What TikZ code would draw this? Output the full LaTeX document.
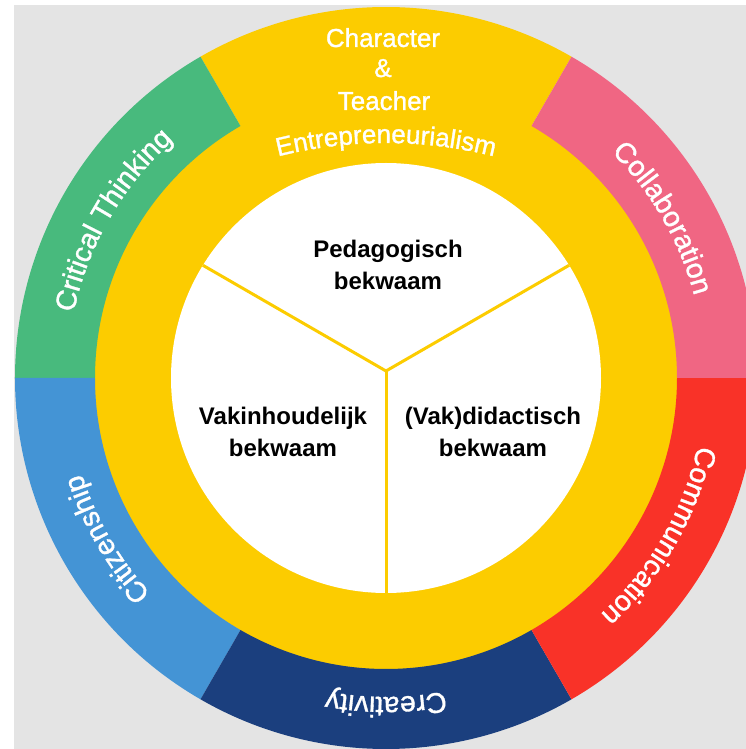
\documentclass[tikz,border=0pt]{standalone}
\usepackage{fontspec}
\setmainfont{Liberation Sans}
\newfontfamily\medfont{Liberation Sans}[FakeBold=1.2]
\usetikzlibrary{decorations.text}
\definecolor{bggray}{RGB}{228,228,228}
\definecolor{ringyellow}{RGB}{252,204,0}
\definecolor{ringgreen}{RGB}{72,186,125}
\definecolor{ringpink}{RGB}{240,102,131}
\definecolor{ringred}{RGB}{249,50,40}
\definecolor{ringnavy}{RGB}{27,63,126}
\definecolor{ringblue}{RGB}{68,148,213}
\newcommand\ringsector[5]{\fill[#1] (#2:#4) arc[start angle=#2, end angle=#3, radius=#4] -- (#3:#5) arc[start angle=#3, end angle=#2, radius=#5] -- cycle;}
\newcommand\ringfnt{\medfont\fontsize{28.5}{28.5}\selectfont}
\newcommand\topfnt{\medfont\fontsize{26}{26}\selectfont}
\tikzset{
  innertxt/.style={align=center, text=black, font=\bfseries\fontsize{24}{32}\selectfont, inner sep=0pt},
  toptxt/.style={text=white, font=\topfnt, inner sep=0pt, anchor=base},
  divider/.style={draw=ringyellow, line width=3pt},
  ringlabel/.style={decorate, decoration={text along path, text align=center, text color=white, text={|\ringfnt|#1}}},
  toplabel/.style={decorate, decoration={text along path, text align=center, text color=white, text={|\topfnt|#1}}}
}
\begin{document}
\begin{tikzpicture}[x=1pt,y=1pt]
\useasboundingbox (-386,-371) rectangle (360,378);
\clip (-386,-371) rectangle (360,378);
\fill[white] (-386,-371) rectangle (360,378);
\fill[bggray] (-372,-371) rectangle (360,373);
% yellow ring and top segment
\fill[ringyellow] (0,0) circle[radius=292];
\ringsector{ringyellow}{60}{120}{291}{371}
% coloured segments
\ringsector{ringgreen}{120}{180}{291}{371}
\ringsector{ringblue}{180}{240}{291}{371}
\ringsector{ringnavy}{240}{300}{291}{371}
\ringsector{ringred}{300}{360}{291}{371}
\ringsector{ringpink}{0}{60}{291}{371}
% inner disc
\fill[white] (0,0) circle[radius=215];
\coordinate (J) at (0,7);
\path (J) ++(150:211.4) coordinate (L);
\path (J) ++(30:211.4) coordinate (R);
\coordinate (B) at (0,-215);
\draw[divider] (J) -- (L);
\draw[divider] (J) -- (R);
\draw[divider] (J) -- (B);
% inner labels
\node[innertxt] (ped) at (2,113) {Pedagogisch\\bekwaam};
\node[innertxt] (vak) at (-103,-54) {Vakinhoudelijk\\bekwaam};
\node[innertxt] (did) at (107,-54) {(Vak)didactisch\\bekwaam};
% top labels
\node[toptxt] (char) at (-3,331) {Character};
\node[toptxt] (amp) at (-3,301) {\&};
\node[toptxt] (teach) at (-2,268) {Teacher};
\path[toplabel={Entrepreneurialism}] (0,-205) ++(110:440) arc[start angle=110, end angle=70, radius=440];
% ring labels
\path[ringlabel={Critical Thinking}] (178:319) arc[start angle=178, end angle=122, radius=319];
\path[ringlabel={Collaboration}] (58:319) arc[start angle=58, end angle=2, radius=319];
\path[ringlabel={Communication}] (-2:319) arc[start angle=-2, end angle=-58, radius=319];
\path[ringlabel={Creativity}] (-62:319) arc[start angle=-62, end angle=-118, radius=319];
\path[ringlabel={Citizenship}] (238:319) arc[start angle=238, end angle=182, radius=319];
\end{tikzpicture}
\end{document}
